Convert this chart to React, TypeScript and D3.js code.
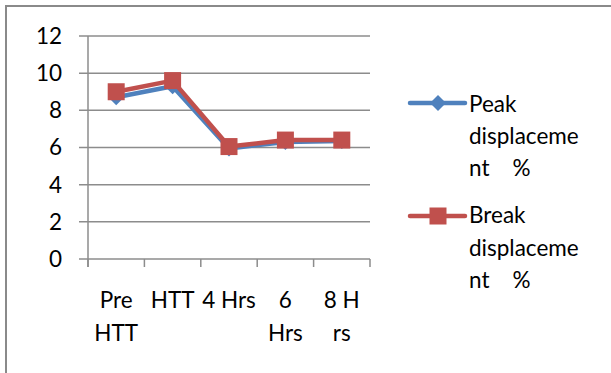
import React from "react";
import * as d3 from "d3";

const categories: string[][] = [["Pre", "HTT"], ["HTT"], ["4 Hrs"], ["6", "Hrs"], ["8 H", "rs"]];
const peakValues = [8.7, 9.3, 5.95, 6.3, 6.35];
const breakValues = [9.0, 9.6, 6.05, 6.4, 6.4];
const yTicks = [0, 2, 4, 6, 8, 10, 12];
const legendPeak = ["Peak", "displaceme", "nt    %"];
const legendBreak = ["Break", "displaceme", "nt    %"];

const BLUE = "#4F81BD";
const RED = "#C0504D";
const GRID = "#8c8c8c";
const FONT = "Lato, 'Open Sans', sans-serif";
const FS = 22.5;

export default function App() {
  const W = 611, H = 373;
  const left = 88, right = 370, top = 36, bottom = 259;
  const x = d3.scaleBand<number>().domain(d3.range(categories.length)).range([left, right]);
  const y = d3.scaleLinear().domain([0, 12]).range([bottom, top]);
  const line = d3.line<number>().x((_, i) => x(i)! + x.bandwidth() / 2).y((v) => y(v));
  const cx = (i: number) => x(i)! + x.bandwidth() / 2;

  const diamond = (px: number, py: number, r: number) =>
    `M${px},${py - r}L${px + r},${py}L${px},${py + r}L${px - r},${py}Z`;

  return (
    <div style={{ position: "absolute", left: 0, top: 0 }}>
      <svg width={W} height={H} style={{ display: "block", fontFamily: FONT }}>
        <rect x={0} y={0} width={W} height={H} fill="#fff" />
        <path d={`M6,${H + 5}V6H${W + 5}`} fill="none" stroke="#8a8a8a" strokeWidth={2} />
        {yTicks.map((t) => (
          <g key={t}>
            <line x1={left - 9} x2={right} y1={y(t)} y2={y(t)} stroke={GRID} strokeWidth={1.5} />
            <text x={62} y={y(t)} dy="0.35em" textAnchor="end" fontSize={FS} fill="#000">
              {t}
            </text>
          </g>
        ))}
        <line x1={left} x2={left} y1={top} y2={bottom + 8} stroke={GRID} strokeWidth={1.5} />
        {d3.range(categories.length + 1).map((i) => {
          const xx = i < categories.length ? x(i)! : right;
          return <line key={i} x1={xx} x2={xx} y1={bottom} y2={bottom + 8} stroke={GRID} strokeWidth={1.5} />;
        })}
        {categories.map((lines, i) =>
          lines.map((l, j) => (
            <text key={`${i}-${j}`} x={cx(i)} y={308 + j * 33} textAnchor="middle" fontSize={FS} fill="#000">
              {l}
            </text>
          ))
        )}
        <path d={line(peakValues)!} fill="none" stroke={BLUE} strokeWidth={4.5} strokeLinejoin="round" />
        {peakValues.map((v, i) => (
          <path key={i} d={diamond(cx(i), y(v), 8)} fill={BLUE} />
        ))}
        <path d={line(breakValues)!} fill="none" stroke={RED} strokeWidth={4.5} strokeLinejoin="round" />
        {breakValues.map((v, i) => (
          <rect key={i} x={cx(i) - 8.5} y={y(v) - 8.5} width={17} height={17} fill={RED} />
        ))}
        {/* legend */}
        <line x1={410} x2={465} y1={103} y2={103} stroke={BLUE} strokeWidth={4.5} strokeLinecap="round" />
        <path d={diamond(438, 103, 8)} fill={BLUE} />
        {legendPeak.map((l, j) => (
          <text key={l + j} x={469} y={112 + j * 32} fontSize={FS} fill="#000" style={{ whiteSpace: "pre" }}>
            {l}
          </text>
        ))}
        <line x1={410} x2={465} y1={216} y2={216} stroke={RED} strokeWidth={4.5} strokeLinecap="round" />
        <rect x={429.5} y={207.5} width={17} height={17} fill={RED} />
        {legendBreak.map((l, j) => (
          <text key={l + j} x={469} y={223 + j * 32.5} fontSize={FS} fill="#000" style={{ whiteSpace: "pre" }}>
            {l}
          </text>
        ))}
      </svg>
    </div>
  );
}
